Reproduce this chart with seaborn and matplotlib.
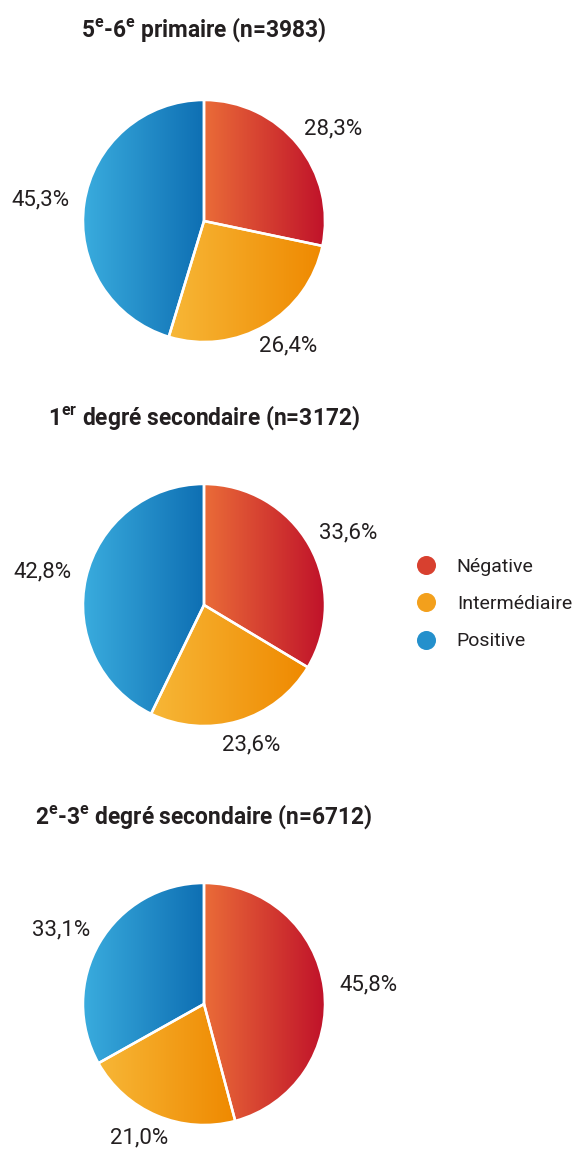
import numpy as np
import matplotlib
matplotlib.use('Agg')
import matplotlib.pyplot as plt
from matplotlib.colors import LinearSegmentedColormap
from matplotlib.lines import Line2D
import seaborn as sns

# ---- data ----
categories = ['Négative', 'Intermédiaire', 'Positive']
titles = [r'5$^{\mathregular{e}}$-6$^{\mathregular{e}}$ primaire (n=3983)',
          r'1$^{\mathregular{er}}$ degré secondaire (n=3172)',
          r'2$^{\mathregular{e}}$-3$^{\mathregular{e}}$ degré secondaire (n=6712)']
primaire_5_6 = [28.3, 26.4, 45.3]
secondaire_1 = [33.6, 23.6, 42.8]
secondaire_2_3 = [45.8, 21.0, 33.1]
series = [primaire_5_6, secondaire_1, secondaire_2_3]

# ---- style ----
grad_left = ['#EA6C38', '#F7B737', '#3AACDE']
grad_right = ['#C0122A', '#EF8900', '#0E6FB3']
mid_colors = ['#D8402F', '#F3A01C', '#2490CC']

sns.set_theme(style='white')
FONT = ['Roboto', 'DejaVu Sans']
plt.rcParams['font.family'] = FONT
TXT = '#231F20'

W, H = 572, 1149
fig = plt.figure(figsize=(W / 100, H / 100), dpi=100)
fig.patch.set_facecolor('white')
renderer = fig.canvas.get_renderer()

R_PX = 121.0
LIM = 1.45
CX = 204
centers_y = [221, 605, 1004]
title_y = [30, 418, 817]
ANCHOR = 1.13

for vals, cy in zip(series, centers_y):
    half = LIM * R_PX
    ax = fig.add_axes([(CX - half) / W, (H - cy - half) / H, 2 * half / W, 2 * half / H])
    ax.set_xlim(-LIM, LIM)
    ax.set_ylim(-LIM, LIM)
    ax.set_aspect('equal')
    ax.axis('off')
    wedges, _ = ax.pie(vals, startangle=90, counterclock=False, radius=1,
                       colors=mid_colors,
                       wedgeprops=dict(edgecolor='white', linewidth=1.8))
    for k, w in enumerate(wedges):
        # horizontal gradient across the wedge's own extent
        th = np.deg2rad(np.linspace(w.theta1, w.theta2, 200))
        xs = np.concatenate([[0.0], w.r * np.cos(th)])
        ys = np.concatenate([[0.0], w.r * np.sin(th)])
        cmap = LinearSegmentedColormap.from_list('g%d' % k, [grad_left[k], grad_right[k]])
        grad = np.linspace(0, 1, 256).reshape(1, -1)
        im = ax.imshow(grad, cmap=cmap, extent=[xs.min(), xs.max(), ys.min(), ys.max()],
                       aspect='auto', zorder=w.get_zorder() - 0.1, interpolation='bilinear')
        im.set_clip_path(w)
        w.set_facecolor('none')
        w.set_zorder(w.get_zorder() + 1)
        # label placed outside the wedge, box pushed away from the edge
        mid = np.deg2rad((w.theta1 + w.theta2) / 2)
        ax0 = ANCHOR * np.cos(mid)
        ay0 = ANCHOR * np.sin(mid)
        t = ax.text(ax0, ay0, f'{vals[k]:.1f}%'.replace('.', ','),
                    ha='center', va='center', fontsize=16, color=TXT, family=FONT)
        bb = t.get_window_extent(renderer)
        bw = bb.width / R_PX
        bh = 0.85 * bb.height / R_PX
        t.set_position((ax0 + bw / 2 * np.cos(mid), ay0 + bh / 2 * np.sin(mid)))
    ax.set_xlim(-LIM, LIM)
    ax.set_ylim(-LIM, LIM)

# titles: fit size so that widths resemble the reference's condensed type
title_texts = []
for title, ty in zip(titles, title_y):
    tt = fig.text(CX / W, 1 - ty / H, title, ha='center', va='center', fontsize=14,
                  fontweight='bold', color=TXT, family=FONT)
    title_texts.append(tt)
w2 = title_texts[1].get_window_extent(renderer).width
scale = 313.0 / w2
for tt in title_texts:
    tt.set_fontsize(14 * scale)

handles = [Line2D([], [], linestyle='none', marker='o', markersize=13.7,
                  markerfacecolor=c, markeredgecolor='none') for c in mid_colors]
fig.legend(handles, categories, loc='center left', bbox_to_anchor=(416 / W, 1 - 604 / H),
           frameon=False, fontsize=14, handlelength=1.0, handletextpad=1.1,
           labelspacing=1.0, borderpad=0, borderaxespad=0, labelcolor=TXT)

fig.savefig('out.png', dpi=100, facecolor='white')
